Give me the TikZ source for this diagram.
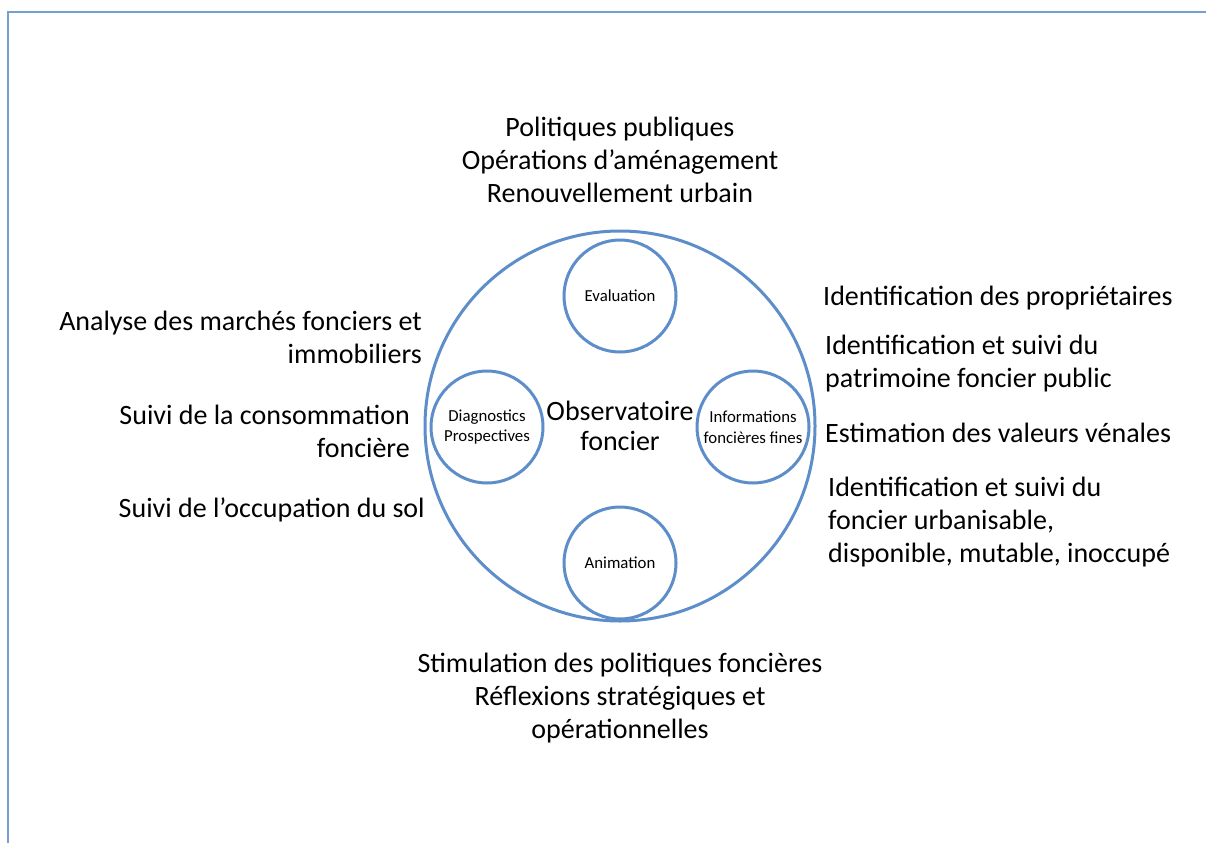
\documentclass[tikz,border=0pt]{standalone}
\usepackage{fontspec}
\setmainfont{Carlito}
\definecolor{ringblue}{RGB}{93,142,201}

\begin{document}
\begin{tikzpicture}[x=1pt,y=-1pt,
  ring/.style={draw=ringblue,line width=3pt,circle,inner sep=0pt,align=center},
  bigtext/.style={font=\fontsize{28}{33}\selectfont,inner sep=0pt},
  smalltext/.style={font=\fontsize{16.8}{20.5}\selectfont}]
\useasboundingbox (0,0) rectangle (1206,843);
% FRAME
\draw [ringblue!85,line width=2.2pt] (8,843) -- (8,12) -- (1206,12);
% OUTER RING
\node [ring,minimum size=390pt,font=\fontsize{28}{30}\selectfont] (obs) at (620,426) {Observatoire\\foncier};
% INNER RINGS
\node [ring,minimum size=112pt,smalltext] (eval) at (620,296) {Evaluation};
\node [ring,minimum size=112pt,smalltext] (anim) at (620,563) {Animation};
\node [ring,minimum size=112pt,smalltext] (diag) at (487,427) {Diagnostics\\Prospectives};
\node [ring,minimum size=112pt,smalltext] (info) at (753,427) {Informations\\foncières fines};
% TOP
\node [bigtext,anchor=base,align=center] (top) at (620,202) {Politiques publiques\\Opérations d’aménagement\\Renouvellement urbain};
% LEFT
\node [bigtext,anchor=base east,align=right] (marche) at (422,363) {Analyse des marchés fonciers et\\immobiliers};
\node [bigtext,anchor=base east,align=right] (conso) at (410,457) {Suivi de la consommation\\foncière};
\node [bigtext,anchor=base east,align=right] (sol) at (425,517) {Suivi de l’occupation du sol};
% RIGHT
\node [bigtext,anchor=base west,align=left] (proprio) at (823,305) {Identification des propriétaires};
\node [bigtext,anchor=base west,align=left] (public) at (825,387) {Identification et suivi du\\patrimoine foncier public};
\node [bigtext,anchor=base west,align=left] (venal) at (825,442) {Estimation des valeurs vénales};
\node [bigtext,anchor=base west,align=left] (urba) at (828,562) {Identification et suivi du\\foncier urbanisable,\\disponible, mutable, inoccupé};
% BOTTOM
\node [bigtext,anchor=base,align=center] (bottom) at (620,738) {Stimulation des politiques foncières\\Réflexions stratégiques et\\opérationnelles};
\end{tikzpicture}
\end{document}
